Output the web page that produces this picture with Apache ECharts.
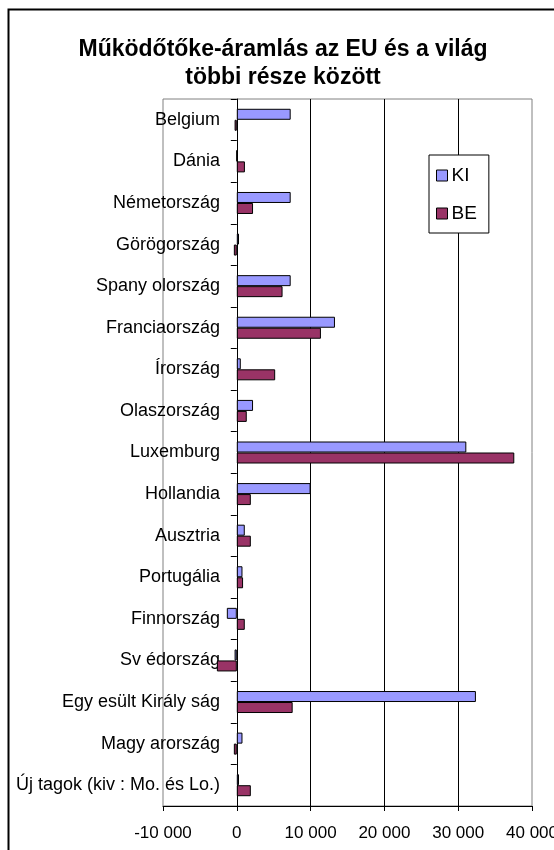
<!DOCTYPE html>
<html>
<head>
<meta charset="utf-8">
<script src="https://cdn.jsdelivr.net/npm/echarts@6/dist/echarts.min.js"></script>
<style>
  html, body { margin: 0; padding: 0; background: #fff; }
  #chart { width: 554px; height: 850px; }
</style>
</head>
<body>
<div id="chart"></div>
<script>
// Működőtőke-áramlás — KI / BE országonként (felülről lefelé)
const countries = [
  "Belgium", "Dánia", "Németország", "Görögország", "Spany olország",
  "Franciaország", "Írország", "Olaszország", "Luxemburg", "Hollandia",
  "Ausztria", "Portugália", "Finnország", "Sv édország",
  "Egy esült Király ság", "Magy arország", "Új tagok (kiv : Mo. és Lo.)"
];
const kiValues = [7300, 0, 7300, 300, 7300, 13300, 540, 2200, 31100, 10000,
                  1080, 770, -1350, -300, 32400, 770, 300];
const beValues = [-300, 1100, 2200, -400, 6200, 11400, 5200, 1350, 37600, 1900,
                  1900, 850, 1080, -2700, 7570, -400, 1900];
const xTicks = { min: -10000, max: 40000, interval: 10000 };

const FONT = "Liberation Sans, Arial, sans-serif";
const fmtNum = (v) => (v < 0 ? "-" : "") +
  String(Math.abs(v)).replace(/\B(?=(\d{3})+(?!\d))/g, " ");

const chart = echarts.init(document.getElementById("chart"), null, { renderer: "canvas" });

chart.setOption({
  animation: false,
  backgroundColor: "#fff",
  textStyle: { fontFamily: FONT, color: "#000" },
  title: {
    text: "Működőtőke-áramlás az EU és a világ\ntöbbi része között",
    left: 278, top: 31, textAlign: "center",
    textStyle: { fontFamily: FONT, fontSize: 23, fontWeight: "bold", color: "#000", lineHeight: 28 },
  },
  legend: {
    orient: "vertical", left: 429, top: 155,
    padding: [11, 12, 10, 7], itemGap: 19,
    itemWidth: 11, itemHeight: 11, itemStyle: { borderColor: "#000", borderWidth: 1 },
    backgroundColor: "#fff", borderColor: "#000", borderWidth: 1, borderRadius: 0,
    textStyle: { fontFamily: FONT, fontSize: 19, color: "#000", padding: [0, 0, 0, -1] },
    data: [{ name: "KI", icon: "rect" }, { name: "BE", icon: "rect" }],
  },
  grid: {
    left: 163, right: 22, top: 99, bottom: 44,
    containLabel: false, outerBoundsMode: "none",
    show: true, borderColor: "#808080", borderWidth: 1,
  },
  xAxis: {
    type: "value", min: xTicks.min, max: xTicks.max, interval: xTicks.interval,
    axisLine: { show: true, onZero: false, lineStyle: { color: "#000", width: 1 } },
    axisTick: { show: true, length: 5, lineStyle: { color: "#000" } },
    axisLabel: { fontFamily: FONT, fontSize: 17, color: "#000", margin: 19, formatter: fmtNum },
    splitLine: { show: true, showMinLine: false, showMaxLine: false,
                 lineStyle: { color: "#000", width: 1 } },
  },
  yAxis: {
    type: "category", data: countries, inverse: true,
    axisLine: { show: true, onZero: true, lineStyle: { color: "#000", width: 1 } },
    axisTick: { show: true, length: 6, lineStyle: { color: "#000" } },
    // a feliratok a 0 tengelyhez igazodnak, nem a rács bal széléhez
    axisLabel: { fontFamily: FONT, fontSize: 18, color: "#000", margin: -57 },
    splitLine: { show: false },
  },
  series: [
    { name: "KI", type: "bar", data: kiValues, barWidth: 11, barGap: "0%",
      itemStyle: { color: "#9999FF", borderColor: "#000", borderWidth: 1 } },
    { name: "BE", type: "bar", data: beValues, barWidth: 11, barGap: "0%",
      itemStyle: { color: "#993366", borderColor: "#000", borderWidth: 1 } },
  ],
  graphic: [{
    type: "rect", silent: true, z: 100,
    shape: { x: 8.5, y: 9.5, width: 620, height: 900 },
    style: { fill: null, stroke: "#000", lineWidth: 2 },
  }],
});
</script>
</body>
</html>
